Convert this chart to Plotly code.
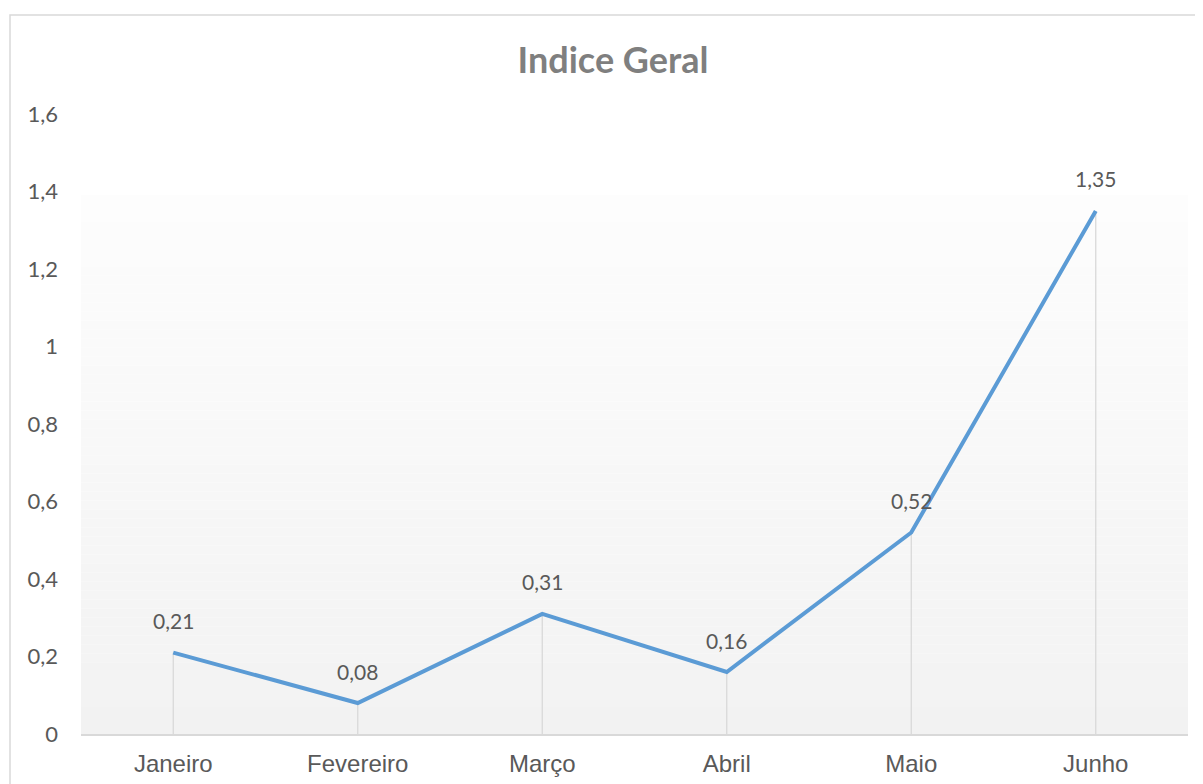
import plotly.graph_objects as go

months = ["Janeiro", "Fevereiro", "Março", "Abril", "Maio", "Junho"]
values = [0.21, 0.08, 0.31, 0.16, 0.52, 1.35]
value_labels = ["0,21", "0,08", "0,31", "0,16", "0,52", "1,35"]
title_text = "Indice Geral"

OFF = 8  # page body margin
W, H = 1203 - OFF, 784 - OFF
L, R, T, B = 81 - OFF, 1188 - OFF, 114 - OFF, 734 - OFF
pw, ph = R - L, B - T

def px(x):
    return (x - OFF - L) / pw

def py(y):
    return (B - (y - OFF)) / ph

fig = go.Figure()

fig.add_trace(go.Scatter(
    x=months, y=values, mode="lines",
    line=dict(color="#5B9BD5", width=4),
    error_y=dict(type="data", symmetric=False, array=[0] * len(values),
                 arrayminus=values, color="#d9d9d9", thickness=1.3, width=0),
    hoverinfo="skip", showlegend=False,
))

shapes = []
n = 60
top_y, bot_y = 195, 734
c_top, c_bot = 253, 242
for i in range(n):
    y0 = top_y + (bot_y - top_y) * i / n
    y1 = top_y + (bot_y - top_y) * (i + 1) / n
    c = round(c_top + (c_bot - c_top) * (i + 0.5) / n)
    shapes.append(dict(type="rect", xref="paper", yref="paper", layer="below",
                       x0=0, x1=1, y0=py(y1), y1=py(y0),
                       fillcolor=f"rgb({c},{c},{c})", line=dict(width=0)))
shapes.append(dict(type="rect", xref="paper", yref="paper", layer="below",
                   x0=px(10), x1=px(1240), y0=py(820), y1=py(15),
                   fillcolor="rgba(0,0,0,0)", line=dict(color="#d9d9d9", width=1.5)))

annotations = []
for m, v, t in zip(months, values, value_labels):
    annotations.append(dict(x=m, y=v, text=t, showarrow=False, yshift=32,
                            font=dict(family="Lato", size=21, color="#595959")))

fig.update_layout(
    width=W, height=H,
    margin=dict(l=L, r=W - R, t=T, b=H - B),
    paper_bgcolor="white", plot_bgcolor="rgba(0,0,0,0)",
    separators=",.",
    title=dict(text=f"<b>{title_text}</b>", x=(613 - OFF) / W, xanchor="center",
               y=1 - (60 - OFF) / H, yanchor="middle",
               font=dict(family="Lato", size=36, color="#7f7f7f")),
    shapes=shapes, annotations=annotations,
    xaxis=dict(range=[-0.5, 5.5], showgrid=False, zeroline=False,
               showline=True, linecolor="#d9d9d9", linewidth=1.5,
               ticks="", ticklabelstandoff=7, automargin=False,
               tickfont=dict(family="Liberation Sans", size=24, color="#595959")),
    yaxis=dict(range=[0, 1.6], dtick=0.2, tick0=0, showgrid=False, zeroline=False,
               showline=False, ticks="", ticklabelstandoff=22, automargin=False,
               tickfont=dict(family="Lato", size=22, color="#595959")),
)

fig.write_html("out.html")
